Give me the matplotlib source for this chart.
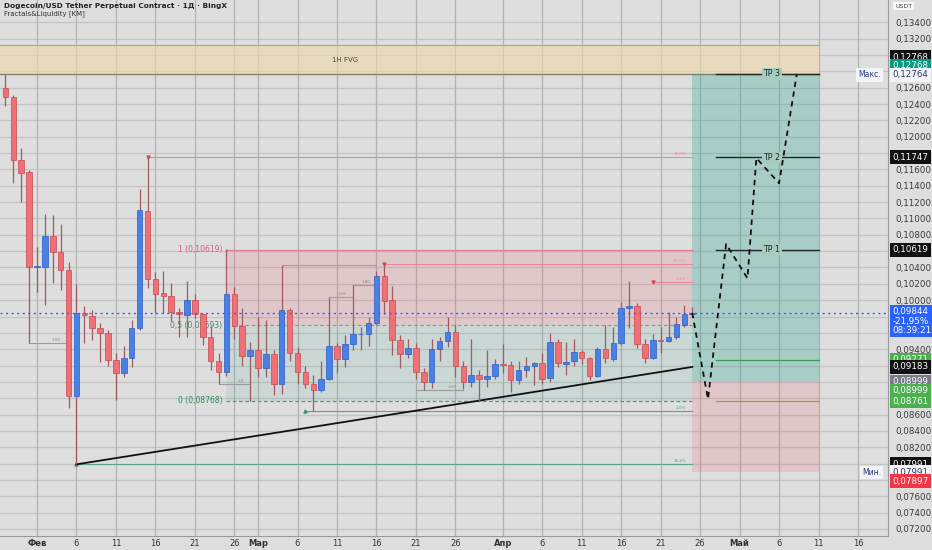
import matplotlib
matplotlib.use("Agg")
import matplotlib.pyplot as plt
import matplotlib.transforms as mtransforms
import numpy as np
import pandas as pd

# daily candles, first one on Jan 28
start_date = "2025-01-28"
opens = [0.1260, 0.1249, 0.1172, 0.1157, 0.1041, 0.1041, 0.1078, 0.1059, 0.1037, 0.0883,
         0.0984, 0.0981, 0.0966, 0.0960, 0.0927, 0.0911, 0.0929, 0.0966, 0.1109, 0.1026,
         0.1009, 0.1005, 0.0985, 0.0982, 0.1000, 0.0983, 0.0955, 0.0926, 0.0912, 0.1008,
         0.0968, 0.0932, 0.0939, 0.0917, 0.0934, 0.0898, 0.0988, 0.0935, 0.0912, 0.0898,
         0.0890, 0.0904, 0.0944, 0.0928, 0.0946, 0.0958, 0.0959, 0.0972, 0.1030, 0.1000,
         0.0951, 0.0934, 0.0941, 0.0912, 0.0900, 0.0940, 0.0950, 0.0961, 0.0919, 0.0900,
         0.0908, 0.0903, 0.0907, 0.0922, 0.0921, 0.0902, 0.0914, 0.0919, 0.0923, 0.0905,
         0.0949, 0.0922, 0.0925, 0.0936, 0.0929, 0.0907, 0.0940, 0.0928, 0.0947, 0.0991,
         0.0993, 0.0946, 0.0929, 0.0951, 0.0950, 0.0955, 0.0970, 0.0983]
highs = [0.1277, 0.1251, 0.1186, 0.1159, 0.1065, 0.1105, 0.1104, 0.1093, 0.1047, 0.1020,
         0.0993, 0.0988, 0.0972, 0.0964, 0.0935, 0.0944, 0.0976, 0.1136, 0.1175, 0.1034,
         0.1036, 0.1021, 0.0990, 0.1024, 0.1008, 0.0984, 0.0968, 0.0935, 0.1062, 0.1016,
         0.0990, 0.0949, 0.0980, 0.0976, 0.0939, 0.1043, 0.0991, 0.0943, 0.0920, 0.0908,
         0.0926, 0.1004, 0.0948, 0.0957, 0.1019, 0.0967, 0.0980, 0.1036, 0.1044, 0.1017,
         0.0957, 0.0953, 0.0947, 0.0917, 0.0952, 0.0955, 0.0980, 0.0970, 0.0926, 0.0953,
         0.0915, 0.0939, 0.0928, 0.0946, 0.0926, 0.0925, 0.0931, 0.0924, 0.0935, 0.0960,
         0.0953, 0.0949, 0.0952, 0.0939, 0.0931, 0.0943, 0.0970, 0.0967, 0.0998, 0.1023,
         0.0997, 0.0952, 0.0959, 0.0967, 0.0986, 0.0980, 0.0994, 0.0992]
lows = [0.1237, 0.1143, 0.1120, 0.0947, 0.1010, 0.0994, 0.1021, 0.1012, 0.0868, 0.0799,
        0.0947, 0.0951, 0.0924, 0.0919, 0.0878, 0.0906, 0.0918, 0.0963, 0.1015, 0.0984,
        0.0984, 0.0974, 0.0955, 0.0955, 0.0978, 0.0945, 0.0914, 0.0898, 0.0907, 0.0953,
        0.0919, 0.0877, 0.0906, 0.0906, 0.0884, 0.0885, 0.0926, 0.0898, 0.0892, 0.0864,
        0.0888, 0.0902, 0.0911, 0.0918, 0.0939, 0.0939, 0.0944, 0.0970, 0.0983, 0.0933,
        0.0917, 0.0929, 0.0904, 0.0890, 0.0892, 0.0925, 0.0943, 0.0906, 0.0891, 0.0894,
        0.0877, 0.0894, 0.0903, 0.0911, 0.0888, 0.0898, 0.0906, 0.0896, 0.0898, 0.0900,
        0.0918, 0.0908, 0.0919, 0.0922, 0.0902, 0.0906, 0.0923, 0.0925, 0.0945, 0.0966,
        0.0942, 0.0923, 0.0928, 0.0935, 0.0949, 0.0953, 0.0967, 0.0979]
closes = [0.1248, 0.1172, 0.1156, 0.1041, 0.1042, 0.1078, 0.1059, 0.1037, 0.0883, 0.0984,
          0.0982, 0.0966, 0.0960, 0.0927, 0.0911, 0.0929, 0.0966, 0.1110, 0.1026, 0.1008,
          0.1005, 0.0985, 0.0983, 0.1000, 0.0983, 0.0955, 0.0926, 0.0912, 0.1008, 0.0968,
          0.0932, 0.0939, 0.0917, 0.0934, 0.0898, 0.0988, 0.0935, 0.0912, 0.0898, 0.0890,
          0.0903, 0.0944, 0.0928, 0.0946, 0.0959, 0.0959, 0.0972, 0.1030, 0.0999, 0.0951,
          0.0934, 0.0941, 0.0912, 0.0900, 0.0940, 0.0950, 0.0961, 0.0919, 0.0900, 0.0908,
          0.0903, 0.0907, 0.0922, 0.0921, 0.0902, 0.0915, 0.0919, 0.0923, 0.0904, 0.0949,
          0.0923, 0.0924, 0.0936, 0.0929, 0.0907, 0.0940, 0.0929, 0.0947, 0.0991, 0.0993,
          0.0946, 0.0929, 0.0951, 0.0950, 0.0955, 0.0971, 0.0983, 0.0984]

last_price = 0.09844
fib_levels = [0.10619, 0.09693, 0.08768]
fib_names = ["1 (0,10619)", "0,5 (0,09693)", "0 (0,08768)"]
fib_start, fib_end = "2025-02-25", "2025-04-25"

entry_price = 0.08999
stop_price = 0.07897
tp_prices = [0.10619, 0.11747, 0.12768]
tp_names = ["TP 1", "TP 2", "TP 3"]
extra_levels = [0.09271, 0.08761]
pos_start, pos_end, tp_line_start = "2025-04-25", "2025-05-11", "2025-04-28"

fvg_low, fvg_high = 0.12767, 0.13122

trend_dates = ["2025-02-06", "2025-04-25"]
trend_prices = [0.07991, 0.09183]

proj_dates = ["2025-04-25", "2025-04-27", "2025-04-29 07:00", "2025-05-02",
              "2025-05-03 03:00", "2025-05-06", "2025-05-08 06:00"]
proj_prices = [0.09844, 0.08790, 0.10687, 0.10267, 0.11739, 0.11430, 0.12768]

# liquidity lines: start, end, price, kind, label
liq_lines = [
    ("2025-02-15", "2025-04-25", 0.11747, "high", "11,9%"),
    ("2025-03-04", "2025-03-16", 0.10430, "gray", ""),
    ("2025-03-17", "2025-04-25", 0.10440, "high", "10,3%"),
    ("2025-03-10", "2025-03-13", 0.10040, "gray", "1,36"),
    ("2025-03-13", "2025-03-16", 0.10190, "gray", "1,80"),
    ("2025-04-20", "2025-04-25", 0.10226, "high", "5,4%"),
    ("2025-01-31", "2025-02-04 20:00", 0.09470, "gray", "1,50"),
    ("2025-02-24", "2025-02-28", 0.08980, "gray", "1,0"),
    ("2025-03-21", "2025-03-27", 0.08900, "gray", "1,00"),
    ("2025-03-07", "2025-04-25", 0.08640, "low", "2,0%"),
    ("2025-02-06", "2025-04-25", 0.07991, "low", "15,4%"),
]

origin = pd.Timestamp("2025-02-01")


def dnum(s):
    return (pd.Timestamp(s) - origin) / pd.Timedelta(days=1)


dates = pd.date_range(start_date, periods=len(opens), freq="D")
x = np.array([(d - origin) / pd.Timedelta(days=1) for d in dates])
o, h, l, c = map(np.array, (opens, highs, lows, closes))

BG = "#dedede"
RED = "#ef7077"
RED_EDGE = "#c9484f"
BLUE = "#4a7fe4"
BLUE_EDGE = "#2d5ec4"
WICK = "#a25a60"

fig = plt.figure(figsize=(9.32, 5.5), dpi=100, facecolor=BG)
ax = fig.add_axes([0, 14 / 550, 888 / 932, 536 / 550])
ax.set_facecolor(BG)
ax.set_xlim(-4.687, 107.8)
ax.set_ylim(0.07114, 0.13673)

# grid + price scale (labels hidden where a tag sits on top, as on the chart)
yt = np.round(np.arange(0.072, 0.1341, 0.002), 3)
covered = {0.130, 0.128, 0.118, 0.106, 0.098, 0.096, 0.092, 0.090, 0.088, 0.080, 0.078}
ax.set_yticks(yt)
ax.yaxis.tick_right()
ax.set_yticklabels(["" if v in covered else f"{v:.5f}".replace(".", ",") for v in yt])
months = {2: "Фев", 3: "Мар", 4: "Апр", 5: "Май"}
xt, xl = [], []
for m in [2, 3, 4, 5]:
    for day in [1, 6, 11, 16, 21, 26]:
        t = pd.Timestamp(2025, m, day)
        if t > pd.Timestamp("2025-05-16"):
            continue
        xt.append((t - origin) / pd.Timedelta(days=1))
        xl.append(months[m] if day == 1 else str(day))
ax.set_xticks(xt)
ax.set_xticklabels(xl)
for lab in ax.get_xticklabels():
    if lab.get_text() in months.values():
        lab.set_fontweight("bold")
ax.tick_params(axis="x", length=0, pad=2, labelsize=6, colors="#333333")
ax.tick_params(axis="y", length=0, pad=5, labelsize=6.3, colors="#3a3a3a")
for v in yt:
    ax.axhline(v, color="#c3c3c3", lw=0.9, zorder=0)
for v in xt:
    ax.axvline(v, color="#b2b2b2", lw=0.9, zorder=0)
for side in ["left", "top"]:
    ax.spines[side].set_visible(False)
ax.spines["right"].set_color("#9a9a9a")
ax.spines["bottom"].set_color("#9a9a9a")
ax.spines["right"].set_linewidth(0.8)
ax.spines["bottom"].set_linewidth(0.8)

xl0 = ax.get_xlim()[0]

# 1H FVG box
ax.fill_between([xl0, dnum(pos_end)], fvg_low, fvg_high, color="#f0d9a8", alpha=0.6,
                lw=0, zorder=1)
ax.plot([xl0, dnum(pos_end)], [fvg_high, fvg_high], color="#b9a585", lw=0.9, zorder=1)
ax.plot([xl0, dnum(pos_end)], [fvg_low, fvg_low], color="#8c7f6c", lw=1.0, zorder=1)
ax.text(39, (fvg_low + fvg_high) / 2, "1H FVG", fontsize=5, color="#444444",
        ha="center", va="center", zorder=2)

# fib zones
fs, fe = dnum(fib_start), dnum(fib_end)
ax.fill_between([fs, fe], fib_levels[1], fib_levels[0], color="#f23645", alpha=0.13,
                lw=0, zorder=1)
ax.fill_between([fs, fe], fib_levels[2], fib_levels[1], color="#089981", alpha=0.09,
                lw=0, zorder=1)
ax.plot([fs, fe], [fib_levels[0]] * 2, color="#e07f90", lw=0.9, zorder=2)
ax.plot([fs, fe], [fib_levels[1]] * 2, color="#8f9a94", lw=0.9, ls=(0, (3, 2)), zorder=2)
ax.plot([fs, fe], [fib_levels[2]] * 2, color="#4f9e7c", lw=0.9, ls=(0, (3, 2)), zorder=2)
fib_colors = ["#e0587a", "#3f8a6a", "#2f8a5a"]
for lv, nm, col in zip(fib_levels, fib_names, fib_colors):
    ax.text(fs - 0.5, lv, nm, fontsize=5.5, color=col, ha="right", va="center", zorder=3)

# liquidity lines
liq_colors = {"high": "#e8889a", "low": "#5aa583", "gray": "#9c9c9c"}
for s, e, p, kind, lab in liq_lines:
    col = liq_colors[kind]
    ax.plot([dnum(s), dnum(e)], [p, p], color=col, lw=0.8, zorder=2)
    if kind == "high":
        ax.plot(dnum(s), p, marker="v", ms=2.2, color="#d84a5a", zorder=4)
    elif kind == "low":
        ax.plot(dnum(s), p, marker="^", ms=2.2, color="#2f9a6a", zorder=4)
    if lab:
        ax.text(dnum(e) - 0.8, p + 0.00012, lab, fontsize=3, color=col if kind != "gray" else "#8a8a8a",
                ha="right", va="bottom", zorder=3)

# long position tool
ps, pe = dnum(pos_start), dnum(pos_end)
ax.fill_between([ps, pe], entry_price, tp_prices[-1], color="#089981", alpha=0.25, lw=0, zorder=1)
ax.fill_between([ps, pe], stop_price, entry_price, color="#f23645", alpha=0.14, lw=0, zorder=1)
ts = dnum(tp_line_start)
for p, nm in zip(tp_prices, tp_names):
    ax.plot([ts, pe], [p, p], color="#1e2a26", lw=1.0, zorder=3)
    ax.text(93.1, p, nm, fontsize=5.8, color="#1e2a26", ha="center", va="center", zorder=4,
            bbox=dict(boxstyle="square,pad=0.15", fc="#a8cbc0", ec="none"))
ax.plot([ts, pe], [extra_levels[0]] * 2, color="#3e9a5a", lw=0.9, zorder=3)
ax.plot([ts, pe], [extra_levels[1]] * 2, color="#9a9a40", lw=0.9, zorder=3)

# trendline
ax.plot([dnum(d) for d in trend_dates], trend_prices, color="#111111", lw=1.3, zorder=5)

# candles
up = c >= o
body_lo = np.minimum(o, c)
body_h = np.maximum(np.abs(c - o), 0.00005)
ax.vlines(x, l, h, color=WICK, lw=0.9, zorder=6)
ax.bar(x[up], body_h[up], bottom=body_lo[up], width=0.7, color=BLUE,
       edgecolor=BLUE_EDGE, lw=0.5, zorder=7)
ax.bar(x[~up], body_h[~up], bottom=body_lo[~up], width=0.7, color=RED,
       edgecolor=RED_EDGE, lw=0.5, zorder=7)

# current price line
ax.axhline(last_price, color="#2962ff", lw=1.0, ls=(0, (1.5, 2.5)), zorder=8)

# projected path
ax.plot([dnum(d) for d in proj_dates], proj_prices, color="#111111", lw=1.3,
        ls=(0, (3, 2.5)), zorder=9)

# header
fig.text(4 / 932, 1 - 6 / 550, "Dogecoin/USD Tether Perpetual Contract · 1Д · BingX",
         fontsize=5.3, fontweight="bold", color="#222222", va="center", ha="left")
fig.text(4 / 932, 1 - 13.5 / 550, "Fractals&Liquidity [KM]", fontsize=5,
         color="#333333", va="center", ha="left")

# price scale tags
blend = mtransforms.blended_transform_factory(ax.transAxes, ax.transData)


def tag(price, text, bg, fg="white", dy=0.0):
    ax.annotate(text, xy=(1, price), xycoords=blend, xytext=(3.3, dy),
                textcoords="offset points", ha="left", va="center", fontsize=6.3,
                color=fg, annotation_clip=False, linespacing=1.05, zorder=20,
                bbox=dict(boxstyle="square,pad=0.28", fc=bg, ec="none"))


tag(tp_prices[2], "0,12768", "#111111", dy=12.2)
tag(tp_prices[2], "0,12768", "#089981", dy=5.8)
tag(0.12764, "0,12764", "#f2f4f8", fg="#2a3a60", dy=-0.5)
tag(tp_prices[1], "0,11747", "#111111")
tag(tp_prices[0], "0,10619", "#111111")
tag(last_price, "0,09844\n-21,95%\n08:39:21", "#2962ff", dy=-5.9)
tag(extra_levels[0], "0,09271", "#4caf50")
tag(trend_prices[1], "0,09183", "#111111")
tag(entry_price, "0,08999", "#787b86")
tag(entry_price, "0,08999", "#4caf50", dy=-6.5)
tag(extra_levels[1], "0,08761", "#4caf50")
tag(0.07991, "0,07991", "#111111")
tag(0.07991, "0,07991", "#f2f4f8", fg="#2a3a60", dy=-5.8)
tag(stop_price, "0,07897", "#f23645", dy=-6.5)

for p, dy, txt in [(0.12764, -0.5, "Макс."), (0.07991, -5.8, "Мин.")]:
    ax.annotate(txt, xy=(1, p), xycoords=blend, xytext=(-5, dy), textcoords="offset points",
                ha="right", va="center", fontsize=5.5, color="#2a3a70", zorder=20,
                annotation_clip=False,
                bbox=dict(boxstyle="square,pad=0.3", fc="#f2f4f8", ec="none"))

fig.text(895 / 932, 1 - 6 / 550, "USDT", fontsize=4.5, color="#444444", va="center",
         ha="left", bbox=dict(boxstyle="square,pad=0.3", fc="#f8f8f8", ec="none"))

fig.savefig("out.png", dpi=100, facecolor=BG)
